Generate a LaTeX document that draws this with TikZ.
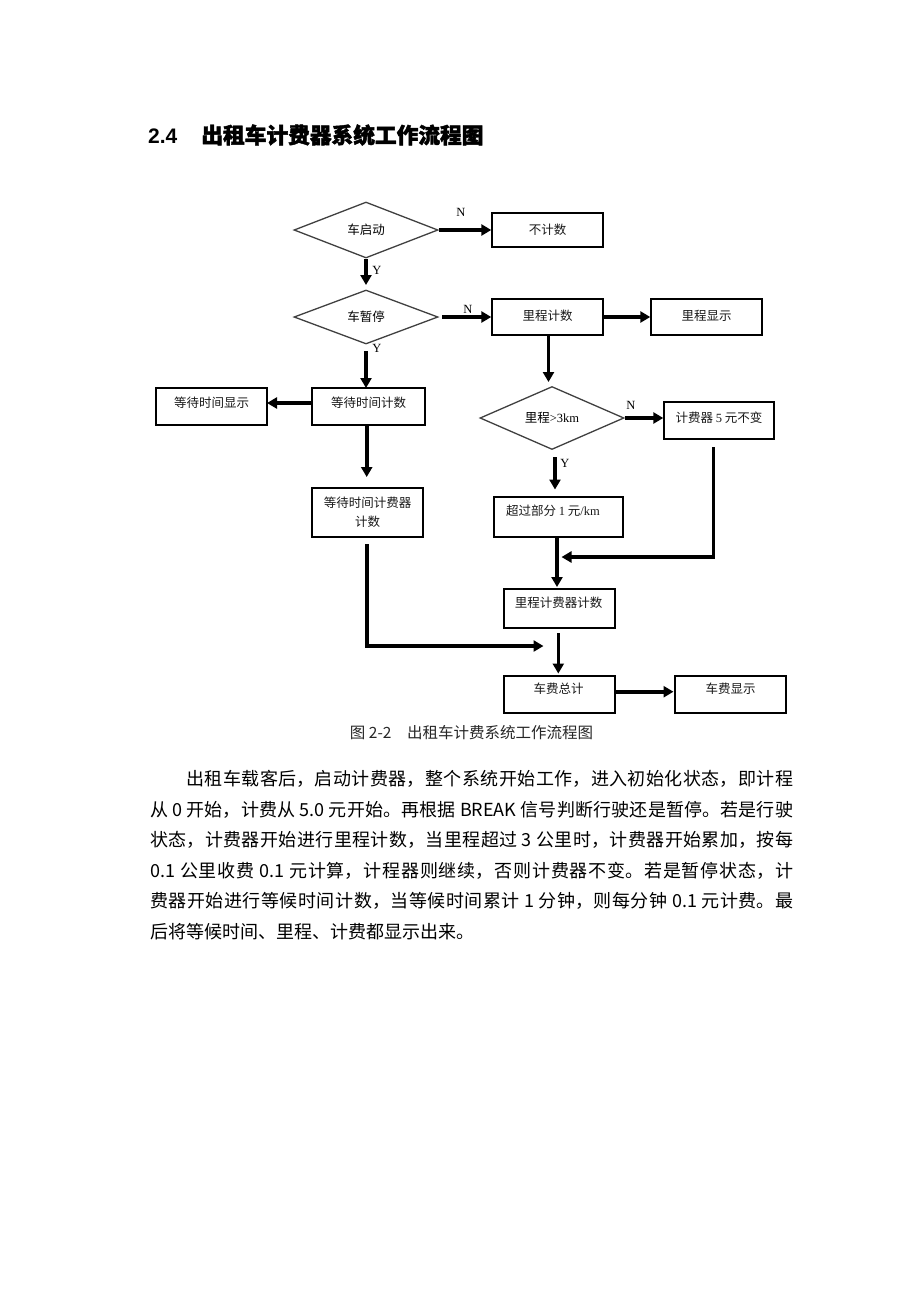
\documentclass[tikz,border=0pt]{standalone}
\usepackage{fontspec}
\setmainfont{Liberation Serif}
\newfontfamily\cjk{Noto Sans CJK SC}
\newfontfamily\cjkb{Noto Sans CJK SC}[FakeBold=2]
\newfontfamily\sansb{Liberation Sans}
\usetikzlibrary{shapes.geometric,arrows.meta,calc}
\XeTeXlinebreaklocale "zh"
\XeTeXlinebreakskip=0pt plus 2pt minus 0.5pt
\begin{document}
\begin{tikzpicture}[x=1pt,y=-1pt,
  box/.style={draw, line width=1.4pt, inner sep=0pt},
  dia/.style={draw=black!75, diamond, shape aspect=2.5, line width=1.3pt, inner sep=0pt, minimum width=144pt,
              font=\cjk\fontsize{12.5}{15}\selectfont},
  txt/.style={font=\cjk\fontsize{12.5}{19}\selectfont, align=center, inner sep=0pt, text=black!90},
  flow/.style={line width=3.6pt, -{Triangle[length=10pt,width=11pt]}},
  yn/.style={font=\fontsize{12.5}{15}\selectfont, inner sep=0pt}]
\fill[white] (0,0) rectangle (920,1302);
\useasboundingbox (0,0) rectangle (920,1302);

% title
\node[anchor=west, inner sep=0pt] (title) at (148,135)
  {\sansb\bfseries\fontsize{21}{24}\selectfont 2.4\hspace{24pt}{\cjkb\fontsize{21.7}{24}\selectfont 出租车计费器系统工作流程图}};

% decisions
\node[dia, minimum height=56pt] (d1) at (366,230) {车启动};
\node[dia, minimum height=54pt] (d2) at (366,317) {车暂停};
\node[dia, minimum height=63pt] (d3) at (552,418) {里程{\rmfamily >3km}};

% boxes
\node[box, minimum width=111pt, minimum height=34pt] (bjs) at (547.5,230) {};
\node[txt] (bjs-t) at (547.5,230) {不计数};
\node[box, minimum width=111pt, minimum height=36pt] (lcjs) at (547.5,317) {};
\node[txt] (lcjs-t) at (547.5,315.5) {里程计数};
\node[box, minimum width=111pt, minimum height=36pt] (lcxs) at (706.5,317) {};
\node[txt] (lcxs-t) at (706.5,315.5) {里程显示};
\node[box, minimum width=111pt, minimum height=37pt] (ddxs) at (211.5,406.5) {};
\node[txt] (ddxs-t) at (211.5,402.5) {等待时间显示};
\node[box, minimum width=113pt, minimum height=37pt] (ddjs) at (368.5,406.5) {};
\node[txt] (ddjs-t) at (368.5,402.5) {等待时间计数};
\node[box, minimum width=110pt, minimum height=37pt] (jfq) at (719,420.5) {};
\node[txt] (jfq-t) at (719,417.5) {计费器 {\rmfamily 5} 元不变};
\node[box, minimum width=129pt, minimum height=40pt] (cg) at (558.5,517) {};
\node[txt] (cg-t) at (553,510.5) {超过部分 {\rmfamily 1} 元{\rmfamily /km}};
\node[box, minimum width=111pt, minimum height=49pt] (ddjf) at (367.5,512.5) {};
\node[txt] (ddjf-t) at (367.5,512) {等待时间计费器\\计数};
\node[box, minimum width=111pt, minimum height=39pt] (lcjf) at (559.5,608.5) {};
\node[txt] (lcjf-t) at (558.5,603) {里程计费器计数};
\node[box, minimum width=111pt, minimum height=37pt] (zj) at (559.5,694.5) {};
\node[txt] (zj-t) at (558.5,689) {车费总计};
\node[box, minimum width=111pt, minimum height=37pt] (xs) at (730.5,694.5) {};
\node[txt] (xs-t) at (730.5,688.5) {车费显示};

% helper coordinates
\coordinate (d1in) at (366,285);
\coordinate (d2out) at (442,317);
\coordinate (d2s) at (366,351);
\coordinate (ddjsin) at (366,388);
\coordinate (ddjsw) at (312,403);
\coordinate (ddxse) at (267,403);
\coordinate (lcjss) at (548.5,335);
\coordinate (d3in) at (548.5,382);
\coordinate (d3s) at (555,457);
\coordinate (cgin) at (555,489.5);
\coordinate (cgs) at (557,537);
\coordinate (lcjfin) at (557,587);
\coordinate (jfqs) at (713.5,447);
\coordinate (bend1) at (713.5,557);
\coordinate (join1) at (561.5,557);
\coordinate (ddjss) at (366.7,425);
\coordinate (ddjfin) at (366.7,477);
\coordinate (ddjfs) at (366.7,544);
\coordinate (bend2) at (366.7,646);
\coordinate (join2) at (543.5,646);
\coordinate (lcjfs) at (558.3,633);
\coordinate (zjin) at (558.3,673.5);
\coordinate (zje) at (615,691.7);
\coordinate (xsin) at (673.5,691.7);

% connectors
\draw[flow] (d1.east) -- (bjs.west);
\draw[flow] (d1.south) -- (d1in);
\draw[flow] (d2out) -- (lcjs.west);
\draw[flow] (lcjs.east) -- (lcxs.west);
\draw[flow] (d2s) -- (ddjsin);
\draw[flow] (ddjsw) -- (ddxse);
\draw[flow] (lcjss) -- (d3in);
\draw[flow] (d3.east) -- (d3.east -| jfq.west);
\draw[flow] (d3s) -- (cgin);
\draw[flow] (cgs) -- (lcjfin);
\draw[flow] (jfqs) -- (bend1) -- (join1);
\draw[flow] (ddjss) -- (ddjfin);
\draw[flow] (ddjfs) -- (bend2) -- (join2);
\draw[flow] (lcjfs) -- (zjin);
\draw[flow] (zje) -- (xsin);

% Y/N labels
\node[yn] (n1) at (461,212) {N};
\node[yn] (y1) at (377,270) {Y};
\node[yn] (n2) at (468,309) {N};
\node[yn] (y2) at (377,348) {Y};
\node[yn] (n3) at (631,405) {N};
\node[yn] (y3) at (565,463) {Y};

% caption
\node[inner sep=0pt, text=black!85] (cap) at (471.5,733)
  {\cjk\fontsize{15.5}{18}\selectfont 图 2-2\hspace{1em}出租车计费系统工作流程图};

% body text
\node[anchor=north west, inner sep=0pt, text width=643pt, align=justify,
      font=\cjk\fontsize{18}{30.6}\selectfont] (body) at (150,770)
{\hspace*{2em}出租车载客后，启动计费器，整个系统开始工作，进入初始化状态，即计程\linebreak
从 0 开始，计费从 5.0 元开始。再根据 BREAK 信号判断行驶还是暂停。若是行驶\linebreak
状态，计费器开始进行里程计数，当里程超过 3 公里时，计费器开始累加，按每\linebreak
0.1 公里收费 0.1 元计算，计程器则继续，否则计费器不变。若是暂停状态，计\linebreak
费器开始进行等候时间计数，当等候时间累计 1 分钟，则每分钟 0.1 元计费。最\linebreak
后将等候时间、里程、计费都显示出来。};
\end{tikzpicture}
\end{document}
